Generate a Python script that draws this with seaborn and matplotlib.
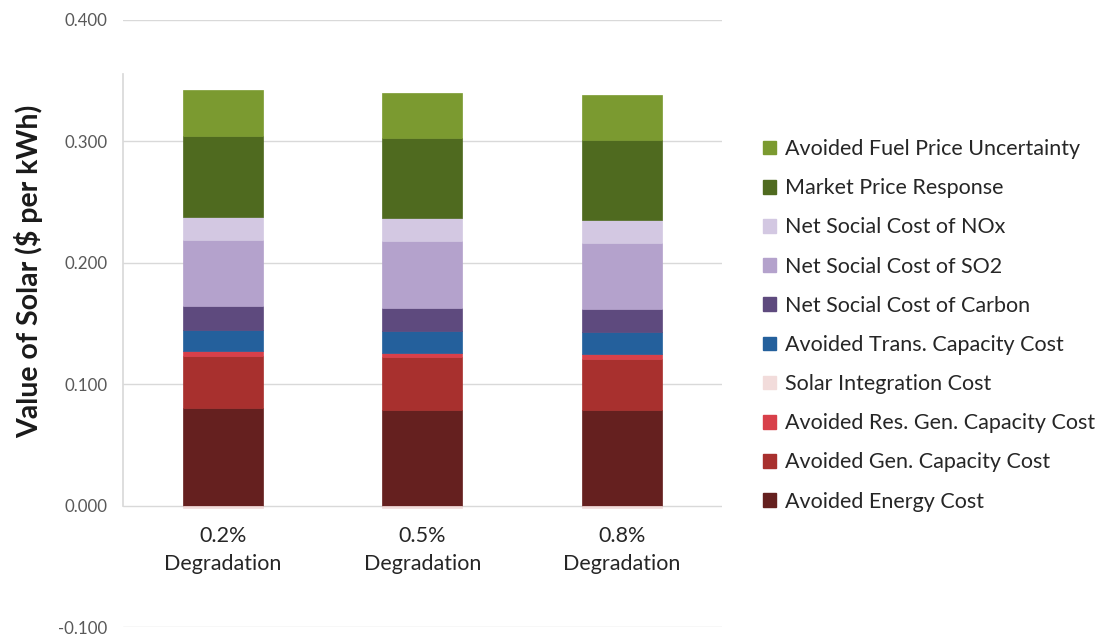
import matplotlib
matplotlib.use("Agg")
import matplotlib.pyplot as plt
from matplotlib.patches import Patch
import seaborn as sns
import pandas as pd
import numpy as np

categories = ["0.2%\nDegradation", "0.5%\nDegradation", "0.8%\nDegradation"]

series_names = [
    "Avoided Energy Cost",
    "Avoided Gen. Capacity Cost",
    "Avoided Res. Gen. Capacity Cost",
    "Solar Integration Cost",
    "Avoided Trans. Capacity Cost",
    "Net Social Cost of Carbon",
    "Net Social Cost of SO2",
    "Net Social Cost of NOx",
    "Market Price Response",
    "Avoided Fuel Price Uncertainty",
]

avoided_energy = [0.080, 0.079, 0.079]
avoided_gen_cap = [0.043, 0.043, 0.042]
avoided_res_gen_cap = [0.004, 0.004, 0.004]
solar_integration = [-0.002, -0.002, -0.002]
avoided_trans_cap = [0.018, 0.018, 0.018]
social_carbon = [0.019, 0.019, 0.019]
social_so2 = [0.055, 0.055, 0.054]
social_nox = [0.019, 0.019, 0.019]
market_price = [0.066, 0.066, 0.066]
fuel_uncertainty = [0.038, 0.037, 0.037]

series_values = [avoided_energy, avoided_gen_cap, avoided_res_gen_cap, solar_integration,
                 avoided_trans_cap, social_carbon, social_so2, social_nox,
                 market_price, fuel_uncertainty]

colors = ["#65201f", "#a8302e", "#d8404a", "#f2dcdb", "#24609c",
          "#5e4a7e", "#b4a2cc", "#d3c8e2", "#4f6a1f", "#7b9a30"]

yticks = [-0.1, 0.0, 0.1, 0.2, 0.3, 0.4]
ytick_labels = ["-0.100", "0.000", "0.100", "0.200", "0.300", "0.400"]

sns.set_theme(style="white")
plt.rcParams["font.family"] = ["Lato", "DejaVu Sans"]

fig = plt.figure(figsize=(11.07, 6.38), dpi=100)
ax = fig.add_axes([0.111, 0.017, 0.541, 0.952])

pos_bottom = np.zeros(len(categories))
neg_bottom = np.zeros(len(categories))
for name, vals, col in zip(series_names, series_values, colors):
    vals = np.array(vals)
    bottoms = np.where(vals >= 0, pos_bottom, neg_bottom)
    df = pd.DataFrame({"cat": categories, "val": vals})
    sns.barplot(data=df, x="cat", y="val", order=categories, color=col,
                bottom=bottoms, width=0.4, ax=ax, errorbar=None,
                edgecolor=col, linewidth=0.5, saturation=1)
    pos_bottom = pos_bottom + np.where(vals >= 0, vals, 0)
    neg_bottom = neg_bottom + np.where(vals < 0, vals, 0)

ax.set_xlim(-0.5, 2.5)
ax.set_ylim(-0.1, 0.4)
ax.set_yticks(yticks)
ax.set_yticklabels(ytick_labels, color="#595959", fontsize=12.2)
ax.tick_params(axis="y", length=0, pad=11)
ax.yaxis.grid(True, color="#d9d9d9", linewidth=1)
ax.set_axisbelow(True)
ax.set_xticks(range(len(categories)))
ax.set_xticklabels([])
ax.tick_params(axis="x", length=0)
ax.set_xlabel("")
for i, lab in enumerate(categories):
    ax.text(i, -0.017, lab, ha="center", va="top", fontsize=15.5,
            color="#262626", linespacing=1.45)

for s in ["top", "right", "bottom"]:
    ax.spines[s].set_visible(False)
ax.spines["left"].set_color("#d9d9d9")
ax.spines["left"].set_bounds(0.0, 0.355)

ax.set_ylabel("Value of Solar ($ per kWh)", fontsize=20.5, fontweight="bold",
              color="#1a1a1a")
ax.yaxis.set_label_coords(-0.133, 0.585)

handles = [Patch(facecolor=c, edgecolor=c) for c in colors][::-1]
labels = series_names[::-1]
fig.legend(handles, labels, loc="center left", bbox_to_anchor=(0.689, 0.490),
           frameon=False, fontsize=15.5, labelspacing=0.89, handlelength=0.6,
           handleheight=0.6, handletextpad=0.45, borderpad=0, borderaxespad=0,
           labelcolor="#262626")

fig.savefig("out.png", dpi=100)
